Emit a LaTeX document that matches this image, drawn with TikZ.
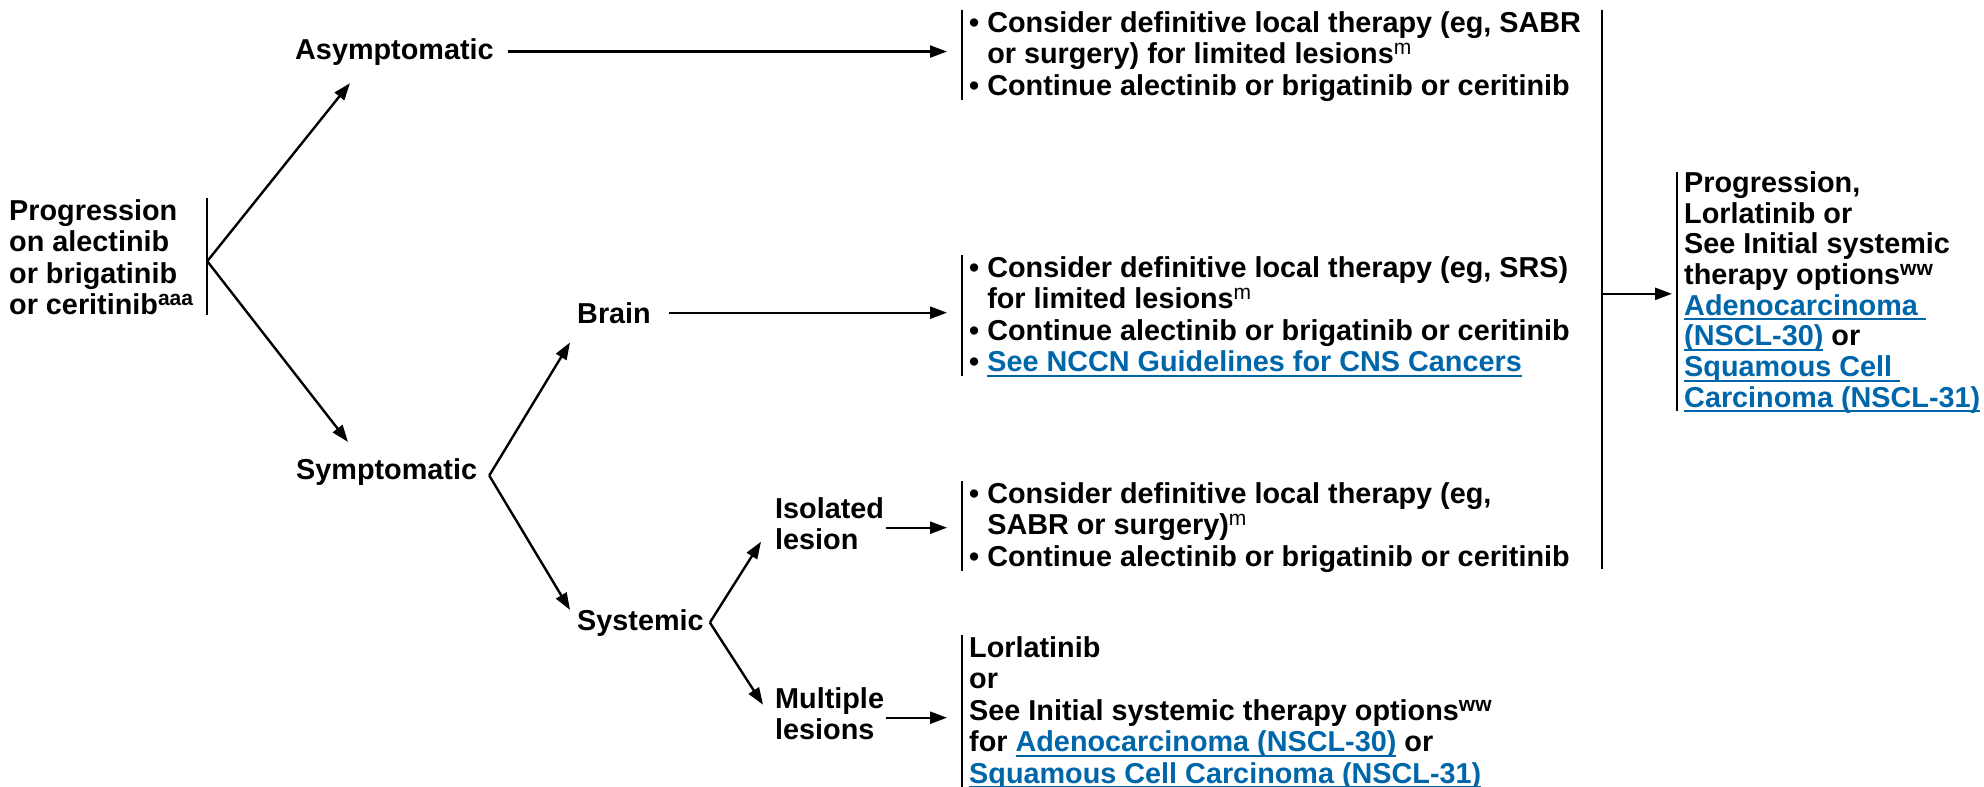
\documentclass[tikz,border=0pt]{standalone}
\usepackage{fontspec}
\setmainfont{Liberation Sans}
\usetikzlibrary{arrows.meta,calc}
\definecolor{linkblue}{RGB}{0,102,170}
\newcommand\sps[1]{\raisebox{9pt}[0pt][0pt]{\fontsize{21}{21}\selectfont #1}}
\newcommand\spm{\raisebox{9pt}[0pt][0pt]{\fontsize{21}{21}\selectfont\mdseries m}}
\newcommand\lnk[1]{{\color{linkblue}\setbox0\hbox{#1}\rlap{\rule[-5pt]{\wd0}{1.8pt}}\box0}}
\newcommand\bul{\textbullet\ }
\newcommand\hang{\hphantom{\textbullet\ }}
\begin{document}
\begin{tikzpicture}[x=1pt,y=-1pt,
  every node/.style={inner sep=0pt, font=\bfseries\fontsize{28.8}{31.5}\selectfont},
  txt/.style={align=left},
  box/.style={align=left, anchor=north west, inner xsep=7pt, inner ysep=0pt},
  ln/.style={line width=2.3pt},
  arr/.style={line width=2.4pt, -{Triangle[length=17pt,width=12pt]}}]
\useasboundingbox (0,0) rectangle (1984,787);

% left column
\node[txt, anchor=north west] (prog) at (9,198)
  {\strut Progression\\\strut on alectinib\\\strut or brigatinib\\\strut or ceritinib\sps{aaa}};
\draw[ln, shorten >=9pt] ([xshift=14pt]prog.north east) -- ([xshift=14pt]prog.south east);
\coordinate (pb) at ([xshift=14pt]prog.east);

\node[anchor=base west] (asym) at (295,59) {Asymptomatic};
\node[anchor=base west] (symp) at (296,479) {Symptomatic};
\node[anchor=base west] (brain) at (577,323) {Brain};
\node[anchor=base west] (sys) at (577,630) {Systemic};
\node[txt, anchor=north west] (iso) at (775,496) {\strut Isolated\\\strut lesion};
\node[txt, anchor=north west] (mult) at (775,686) {\strut Multiple\\\strut lesions};

\coordinate (sb) at ([shift={(12,4)}]symp.east);
\coordinate (yb) at ([xshift=6pt]sys.east);

\draw[arr] (pb) -- ([shift={(55,18)}]asym.south west);
\draw[arr] (pb) -- ([shift={(52,-16)}]symp.north west);
\draw[arr] (sb) -- ([shift={(-7,19)}]brain.south west);
\draw[arr] (sb) -- ([shift={(-7,1)}]sys.north west);
\draw[arr] (yb) -- ([shift={(-14,14)}]iso.west);
\draw[arr] (yb) -- ([shift={(-12,-13)}]mult.west);

% boxes
\node[box] (b1) at (962,10)
  {\strut\bul Consider definitive local therapy (eg, SABR\\
   \strut\hang or surgery) for limited lesions\spm\\
   \strut\bul Continue alectinib or brigatinib or ceritinib};
\node[box] (b2) at (962,255)
  {\strut\bul Consider definitive local therapy (eg, SRS)\\
   \strut\hang for limited lesions\spm\\
   \strut\bul Continue alectinib or brigatinib or ceritinib\\
   \strut\bul\lnk{See NCCN Guidelines for CNS Cancers}};
\node[box] (b3) at (962,481)
  {\strut\bul Consider definitive local therapy (eg,\\
   \strut\hang SABR or surgery)\spm\\
   \strut\bul Continue alectinib or brigatinib or ceritinib};
\node[box] (b4) at (962,635)
  {\strut Lorlatinib\\
   \strut or\\
   \strut See Initial systemic therapy options\sps{ww}\\
   \strut for \lnk{Adenocarcinoma (NSCL-30)} or\\
   \strut\lnk{Squamous Cell Carcinoma (NSCL-31)}};
\node[box, font=\bfseries\fontsize{28.8}{29.3}\selectfont] (rb) at (1677,171.5)
  {\strut Progression,\\
   \strut Lorlatinib or\\
   \strut See Initial systemic\\
   \strut therapy options\sps{ww}\\
   \strut\lnk{Adenocarcinoma\ }\\
   \strut\lnk{(NSCL-30)} or\\
   \strut\lnk{Squamous Cell\ }\\
   \strut\lnk{Carcinoma (NSCL-31)}};

\foreach \b in {b1,b2,b3,rb}
  \draw[ln, shorten >=5pt] (\b.north west) -- (\b.south west);
\draw[ln] (b4.north west) -- (b4.south west);

\draw[arr] ([xshift=14pt]asym.east) -- ($(asym.east -| b1.west)+(-15,0)$);
\draw[arr] ([xshift=18pt]brain.east) -- ($(brain.east -| b2.west)+(-15,0)$);
\draw[arr] ([xshift=2pt]iso.east) -- ($(iso.east -| b3.west)+(-15,0)$);
\draw[arr] ([xshift=2pt]mult.east) -- ($(mult.east -| b4.west)+(-15,0)$);

\coordinate (vx) at (1602,0);
\draw[ln, shorten >=7pt] (vx |- b1.north west) -- (vx |- b3.south west);
\draw[arr] (vx |- rb.west) -- ($(rb.west)+(-5,0)$);
\end{tikzpicture}
\end{document}
